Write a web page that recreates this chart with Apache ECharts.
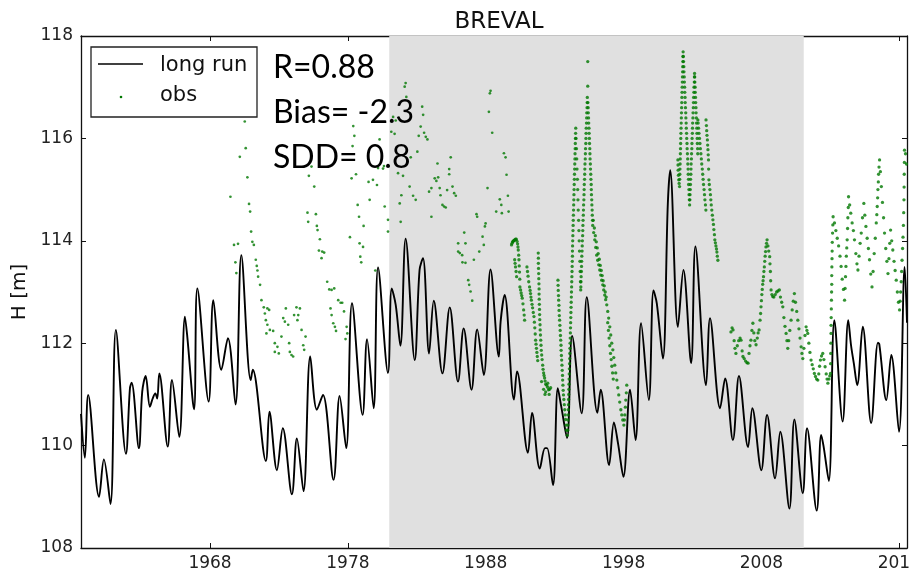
<!DOCTYPE html>
<html>
<head>
<meta charset="utf-8">
<title>BREVAL</title>
<script src="https://cdn.jsdelivr.net/npm/echarts@6/dist/echarts.min.js"></script>
<style>
  html, body { margin: 0; padding: 0; background: #fff; }
  #chart { width: 910px; height: 576px; }
</style>
</head>
<body>
<div id="chart"></div>
<script>
// x ticks (years) and y ticks (H in m)
const yearTicks = [1968, 1978, 1988, 1998, 2008, 2018];
const hMin = 108, hMax = 118, hStep = 2;
const yearMin = 1958.64, yearMax = 2018.56;
// evaluation period shaded in grey
const evalPeriod = [1981.0, 2011.07];

// simulated "long run" water level [year, H]
const longRun = [
  [1958.64,110.62],[1958.92,109.76],[1959.16,110.99],[1959.95,109.0],[1960.30,109.73],[1960.78,108.86],
  [1961.17,112.26],[1961.90,109.84],[1962.19,111.12],[1962.31,111.23],[1962.84,109.95],[1963.08,111.05],
  [1963.33,111.36],[1963.64,110.76],[1963.84,110.92],[1964.03,111.02],[1964.17,110.92],[1964.32,111.41],
  [1964.93,109.98],[1965.24,111.28],[1965.77,110.17],[1966.18,112.52],[1966.35,112.13],[1966.84,110.71],
  [1967.08,113.07],[1967.90,110.86],[1968.24,112.84],[1968.82,111.48],[1969.30,112.10],[1969.85,110.80],
  [1970.27,113.72],[1970.95,111.28],[1971.10,111.48],[1972.05,109.70],[1972.31,110.66],[1972.85,109.52],
  [1973.28,110.34],[1973.94,109.05],[1974.30,110.14],[1974.78,109.11],[1975.27,111.74],[1975.75,110.70],
  [1976.19,110.99],[1976.96,109.33],[1977.40,110.97],[1977.88,109.95],[1978.30,112.78],[1979.07,110.60],
  [1979.39,112.08],[1979.87,110.73],[1980.19,113.48],[1980.91,111.42],[1981.18,113.07],[1981.47,112.75],
  [1981.81,111.95],[1982.19,114.04],[1982.85,111.67],[1983.20,113.43],[1983.45,113.66],[1983.89,111.80],
  [1984.23,112.83],[1984.86,111.41],[1985.39,112.70],[1985.99,111.25],[1986.40,112.29],[1986.97,111.09],
  [1987.38,112.27],[1987.86,111.38],[1988.35,113.44],[1988.95,111.74],[1989.08,112.42],[1989.37,112.94],
  [1990.05,110.90],[1990.27,111.45],[1991.06,109.86],[1991.36,110.64],[1991.92,109.55],[1992.30,109.95],
  [1992.45,109.95],[1992.88,109.23],[1993.23,111.12],[1993.48,110.76],[1993.90,110.15],[1994.27,112.14],
  [1994.96,110.63],[1995.33,112.90],[1996.10,110.64],[1996.34,111.09],[1996.95,109.62],[1997.30,110.45],
  [1997.60,110.04],[1997.99,109.39],[1998.47,111.09],[1998.87,110.11],[1999.27,112.39],[1999.83,110.89],
  [2000.17,113.03],[2000.41,112.78],[2000.85,111.70],[2001.21,114.73],[2001.38,115.38],[2001.94,112.32],
  [2002.34,113.43],[2002.90,111.61],[2003.21,113.89],[2003.98,111.18],[2004.27,112.49],[2005.00,110.73],
  [2005.37,111.31],[2005.93,110.11],[2006.37,111.36],[2007.03,109.97],[2007.34,110.73],[2007.99,109.52],
  [2008.41,110.60],[2008.99,109.36],[2009.37,110.27],[2010.03,108.77],[2010.39,110.51],[2011.00,109.07],
  [2011.31,110.34],[2012.01,108.73],[2012.33,110.21],[2012.50,110.00],[2012.89,109.31],[2013.29,112.45],
  [2013.89,110.47],[2014.30,112.45],[2014.50,111.96],[2014.70,111.61],[2014.95,111.18],[2015.35,112.32],
  [2015.96,110.44],[2016.45,112.01],[2016.55,111.98],[2017.06,110.89],[2017.42,111.77],[2017.98,110.27],
  [2018.39,113.49],[2018.56,112.40]
];

// observations [year, H], sparse readings before 1989
const obsSparse = [
  [1969.48,114.86],[1969.74,113.92],[1969.84,113.58],[1969.91,113.37],[1970.03,113.94],[1970.16,115.64],
  [1970.52,116.33],[1970.59,115.81],[1970.71,115.24],[1970.83,114.72],[1970.91,114.57],[1970.98,114.18],
  [1971.07,113.98],[1971.18,113.92],[1971.32,113.63],[1971.39,113.51],[1971.44,113.42],[1971.49,113.30],
  [1971.63,113.14],[1971.73,112.84],[1971.90,112.70],[1971.98,112.58],[1972.05,112.45],[1972.09,112.19],
  [1972.16,112.68],[1972.16,112.36],[1972.29,112.65],[1972.34,112.26],[1972.58,112.24],[1972.70,112.00],
  [1972.70,111.83],[1972.89,111.93],[1972.99,111.80],[1973.18,112.13],[1973.31,112.49],[1973.43,112.42],
  [1973.50,112.68],[1973.67,112.36],[1973.74,112.00],[1973.79,111.83],[1973.91,111.77],[1974.03,111.74],
  [1974.10,112.55],[1974.27,112.70],[1974.34,112.45],[1974.40,112.55],[1974.52,112.68],[1974.64,112.26],
  [1974.76,111.96],[1974.83,111.87],[1974.93,112.13],
  [1975.07,114.55],[1975.12,114.37],[1975.17,115.27],[1975.36,115.45],[1975.56,115.06],[1975.68,114.52],
  [1975.75,114.29],[1975.80,114.21],[1975.90,113.81],[1975.97,114.03],[1976.09,113.66],[1976.14,113.79],
  [1976.28,113.77],[1976.50,113.20],[1976.65,113.05],[1976.74,112.68],[1976.82,113.04],[1976.82,112.55],
  [1976.94,112.39],[1977.01,113.07],[1977.06,112.32],[1977.14,112.24],[1977.30,112.84],[1977.47,112.79],
  [1977.59,112.79],[1977.72,112.62],[1977.83,112.08],[1977.91,112.32],[1977.96,112.19],
  [1978.15,114.07],[1978.27,115.22],[1978.34,115.85],[1978.39,116.24],[1978.47,116.05],[1978.59,115.30],
  [1978.71,114.70],[1978.81,114.47],[1978.85,113.95],[1978.90,113.69],[1978.97,113.58],[1979.10,113.88],
  [1979.14,114.29],[1979.50,115.15],[1979.58,114.80],[1979.82,115.19],[1979.99,113.42],[1980.11,115.09],
  [1980.19,115.42],[1980.30,115.98],[1980.55,115.41],[1980.62,115.46],[1980.67,114.67],[1980.91,114.41],
  [1980.91,114.18],
  [1981.15,116.13],[1981.28,116.42],[1981.39,116.09],[1981.47,116.35],[1981.64,115.32],[1981.76,114.73],
  [1981.83,114.37],[1981.88,114.89],[1982.00,115.27],[1982.12,117.01],[1982.19,117.08],[1982.24,116.81],
  [1982.48,115.06],[1982.56,115.63],[1982.73,114.88],[1982.92,114.80],[1983.04,115.74],[1983.14,116.05],
  [1983.28,116.23],[1983.39,116.62],[1983.46,116.46],[1983.53,116.11],[1983.65,116.03],[1983.77,115.98],
  [1983.89,114.96],[1984.06,115.03],[1984.06,114.47],[1984.30,115.22],[1984.42,115.17],[1984.50,115.51],
  [1984.55,115.24],[1984.66,115.03],[1984.72,114.89],[1984.86,114.70],[1984.98,114.67],[1985.10,114.65],
  [1985.20,114.99],[1985.35,115.40],[1985.35,115.30],[1985.46,115.63],[1985.59,115.06],[1985.71,114.93],
  [1985.83,114.88],
  [1986.00,113.95],[1986.00,113.79],[1986.12,113.76],[1986.29,113.72],[1986.31,113.58],[1986.44,114.16],
  [1986.53,113.95],[1986.53,113.57],[1986.73,113.23],[1986.80,113.14],[1986.90,113.01],[1987.02,112.83],
  [1987.14,113.63],[1987.33,114.52],[1987.38,114.47],[1987.53,113.79],[1987.77,114.08],[1987.86,113.92],
  [1987.94,114.28],[1987.99,114.34],[1988.13,115.03],[1988.23,116.52],[1988.30,116.88],[1988.35,116.93],
  [1988.47,116.11],[1988.76,114.57],[1989.02,114.81],[1989.13,114.70],[1989.17,114.54],[1989.32,115.71],
  [1989.44,115.63],[1989.51,115.29],[1989.61,114.88],[1989.66,114.57]
];

// observations 1989-1994
const obs1990s = [
  [1989.87,113.92],[1989.91,113.95],[1989.95,113.98],[1989.99,113.99],[1990.02,114.00],[1990.06,114.01],
  [1990.10,114.02],[1990.16,114.03],[1990.22,114.03],[1990.27,113.99],[1990.31,113.94],[1990.34,113.88],
  [1990.36,113.82],[1990.39,113.72],[1990.41,113.63],[1990.43,113.51],[1990.45,113.39],[1990.47,113.25],
  [1990.48,113.10],[1990.53,113.04],[1990.57,112.98],[1990.61,112.93],[1990.65,112.88],[1990.70,112.77],
  [1990.75,112.65],[1990.79,112.55],[1990.82,112.45],
  [1990.10,113.63],[1990.13,113.56],[1990.16,113.49],[1990.20,113.40],[1990.24,113.30],
  [1990.99,113.49],[1991.03,113.40],[1991.07,113.31],[1991.12,113.20],[1991.18,113.10],[1991.22,113.03],
  [1991.25,112.97],[1991.28,112.90],[1991.31,112.84],[1991.36,112.76],[1991.40,112.69],[1991.45,112.60],
  [1991.50,112.52],[1991.53,112.41],[1991.56,112.30],[1991.59,112.18],[1991.62,112.06],[1991.65,111.98],
  [1991.68,111.90],[1991.71,111.82],[1991.74,111.74],[1991.77,111.66],
  [1991.81,113.76],[1991.82,113.66],[1991.82,113.56],[1991.83,113.46],[1991.84,113.36],[1991.85,113.26],
  [1991.86,113.16],[1991.87,113.06],[1991.87,112.96],[1991.88,112.86],[1991.89,112.76],[1991.90,112.66],
  [1991.91,112.56],[1991.92,112.46],[1991.94,112.36],[1991.95,112.26],[1991.97,112.16],[1991.99,112.06],
  [1992.01,111.96],[1992.03,111.86],[1992.06,111.77],[1992.09,111.68],[1992.13,111.57],[1992.16,111.49],
  [1992.20,111.42],[1992.23,111.37],[1992.27,111.32],[1992.31,111.26],[1992.35,111.20],[1992.42,111.18],
  [1992.49,111.14],[1992.56,111.09],[1992.63,111.10],[1992.71,111.13],
  [1992.05,111.25],[1992.20,111.10],[1992.35,111.05],[1992.50,111.22],[1992.30,111.00],[1992.60,111.00],
  [1993.24,113.23],[1993.25,113.13],[1993.26,113.03],[1993.28,112.93],[1993.29,112.84],[1993.31,112.74],
  [1993.32,112.64],[1993.34,112.54],[1993.36,112.45],[1993.38,112.35],[1993.40,112.25],[1993.42,112.15],
  [1993.44,112.06],[1993.46,111.96],[1993.47,111.86],[1993.49,111.76],[1993.51,111.67],[1993.53,111.57],
  [1993.55,111.47],[1993.57,111.37],[1993.58,111.28],[1993.60,111.18],[1993.62,111.08],[1993.64,110.99],
  [1993.67,110.90],[1993.70,110.80],[1993.73,110.70],[1993.76,110.60],[1993.79,110.51],[1993.83,110.40],
  [1993.87,110.30],[1993.92,110.20]
];

// observations 1994-1998
const obsPeak95 = [
  [1993.95,110.30],[1993.96,110.40],[1993.97,110.50],[1993.98,110.60],[1993.99,110.70],[1994.00,110.80],
  [1994.01,110.90],[1994.02,111.00],[1994.03,111.10],[1994.04,111.20],[1994.05,111.30],[1994.06,111.40],
  [1994.07,111.50],[1994.08,111.60],[1994.09,111.70],[1994.10,111.80],[1994.11,111.90],[1994.12,112.00],
  [1994.13,112.10],[1994.14,112.20],[1994.15,112.30],[1994.16,112.40],[1994.17,112.50],[1994.18,112.60],
  [1994.19,112.70],[1994.20,112.80],[1994.21,112.90],[1994.22,113.00],[1994.23,113.10],[1994.24,113.20],
  [1994.25,113.30],[1994.26,113.40],[1994.27,113.50],[1994.28,113.60],[1994.29,113.70],[1994.29,113.80],
  [1994.30,113.90],[1994.31,114.00],[1994.32,114.10],[1994.33,114.20],[1994.34,114.30],[1994.35,114.40],
  [1994.36,114.50],[1994.37,114.60],[1994.38,114.70],[1994.39,114.80],[1994.40,114.90],[1994.41,115.00],
  [1994.42,115.10],[1994.43,115.20],[1994.44,115.30],[1994.45,115.40],[1994.46,115.50],[1994.47,115.60],
  [1994.48,115.70],[1994.49,115.80],[1994.50,115.90],[1994.51,116.00],[1994.52,116.10],[1994.53,116.20],
  [1994.55,116.00],[1994.58,115.80],[1994.60,115.60],[1994.62,115.40],[1994.65,115.20],[1994.67,115.00],
  [1994.69,114.80],[1994.71,114.60],[1994.74,114.40],[1994.76,114.20],[1994.78,114.00],[1994.80,113.80],
  [1994.83,113.60],[1994.85,113.40],[1994.87,113.20],[1994.89,113.04],
  [1994.90,113.10],[1994.91,113.20],[1994.92,113.30],[1994.94,113.40],[1994.95,113.50],[1994.96,113.60],
  [1994.97,113.70],[1994.99,113.80],[1995.00,113.90],[1995.01,114.00],[1995.03,114.10],[1995.04,114.20],
  [1995.05,114.30],[1995.06,114.40],[1995.08,114.50],[1995.09,114.60],[1995.10,114.70],[1995.12,114.80],
  [1995.13,114.90],[1995.14,115.00],[1995.15,115.10],[1995.17,115.20],[1995.18,115.30],[1995.19,115.40],
  [1995.20,115.50],[1995.22,115.60],[1995.23,115.70],[1995.24,115.80],[1995.26,115.90],[1995.27,116.00],
  [1995.28,116.10],[1995.29,116.20],[1995.31,116.30],[1995.32,116.40],[1995.33,116.50],[1995.35,116.60],
  [1995.36,116.70],[1995.37,116.80],[1995.40,117.02],[1995.40,117.50],
  [1995.41,116.70],[1995.43,116.60],[1995.44,116.50],[1995.46,116.40],[1995.47,116.30],[1995.49,116.20],
  [1995.50,116.10],[1995.52,116.00],[1995.53,115.90],[1995.55,115.80],[1995.56,115.70],[1995.57,115.60],
  [1995.59,115.50],[1995.60,115.40],[1995.62,115.30],[1995.63,115.20],[1995.65,115.10],[1995.66,115.00],
  [1995.67,114.90],[1995.69,114.80],[1995.70,114.70],[1995.72,114.60],[1995.73,114.50],[1995.75,114.40],
  [1995.76,114.30],
  [1995.83,114.16],[1995.91,114.02],[1995.98,113.87],[1996.05,113.72],[1996.12,113.62],[1996.20,113.53],
  [1996.27,113.43],[1996.34,113.33],[1996.41,113.23],[1996.49,113.14],[1996.56,113.04],[1996.63,112.94],
  [1996.70,112.85],[1996.78,112.75],[1996.85,112.62],[1996.92,112.49],[1997.00,112.32],[1997.07,112.16],
  [1997.14,112.00],[1997.22,111.87],[1997.29,111.72],[1997.36,111.57],[1997.43,111.42],[1997.51,111.28],
  [1997.58,111.13],[1997.65,110.99],[1997.72,110.85],[1997.80,110.70],[1997.87,110.60],[1997.94,110.50],
  [1998.02,110.40],[1998.06,110.50],[1998.09,110.60],[1998.13,110.75],[1998.16,110.89],[1998.20,111.03],
  [1998.23,111.18],
  [1995.80,114.40],[1995.88,114.25],[1995.95,114.10],[1996.02,113.98],[1996.09,113.86],[1996.16,113.75],
  [1996.24,113.64],[1996.31,113.52],[1996.38,113.42],[1996.45,113.32],[1996.52,113.22],[1996.60,113.12],
  [1996.67,113.00],[1996.74,112.90],
  [1996.85,112.40],[1996.90,112.25],[1996.95,112.10],[1997.00,111.95],[1997.05,111.80],[1997.10,111.68],
  [1997.15,111.55],[1997.20,111.42],[1997.25,111.30]
];

// observations 2001-2005
const obsPeak02 = [
  [2001.94,115.58],[2001.95,115.48],[2001.96,115.38],[2001.98,115.28],[2002.00,115.19],[2002.03,115.12],
  [2002.06,115.06],[2002.07,115.20],[2002.08,115.30],[2002.09,115.40],[2002.10,115.50],[2002.11,115.60],
  [2002.12,115.70],[2002.13,115.80],[2002.14,115.90],[2002.15,116.00],[2002.16,116.10],[2002.17,116.20],
  [2002.18,116.30],[2002.19,116.40],[2002.20,116.50],[2002.21,116.60],[2002.22,116.70],[2002.23,116.80],
  [2002.24,116.90],[2002.25,117.00],[2002.26,117.10],[2002.27,117.20],[2002.28,117.30],[2002.29,117.40],
  [2002.30,117.50],[2002.31,117.60],[2002.32,117.69],
  [2002.33,117.60],[2002.35,117.50],[2002.37,117.40],[2002.38,117.30],[2002.40,117.20],[2002.41,117.10],
  [2002.43,117.00],[2002.44,116.90],[2002.46,116.80],[2002.47,116.70],[2002.49,116.60],[2002.51,116.50],
  [2002.52,116.40],[2002.54,116.30],[2002.55,116.20],[2002.57,116.10],[2002.58,116.00],[2002.60,115.90],
  [2002.61,115.80],[2002.63,115.70],[2002.65,115.60],[2002.66,115.50],[2002.68,115.40],[2002.69,115.30],
  [2002.71,115.20],[2002.72,115.10],[2002.74,115.00],[2002.75,114.90],[2002.77,114.80],[2002.79,114.70],
  [2002.81,114.80],[2002.82,114.90],[2002.84,115.00],[2002.85,115.10],[2002.86,115.20],[2002.88,115.30],
  [2002.89,115.40],[2002.90,115.50],[2002.92,115.60],[2002.93,115.70],[2002.95,115.80],[2002.96,115.90],
  [2002.97,116.00],[2002.99,116.10],[2003.00,116.20],[2003.01,116.30],[2003.03,116.40],[2003.04,116.50],
  [2003.06,116.60],[2003.07,116.70],[2003.08,116.80],[2003.10,116.90],[2003.11,117.00],[2003.13,117.10],
  [2003.14,117.20],[2003.15,117.27],
  [2003.16,117.20],[2003.17,117.10],[2003.19,117.00],[2003.20,116.90],[2003.22,116.80],[2003.23,116.70],
  [2003.25,116.60],[2003.26,116.50],[2003.28,116.40],[2003.29,116.30],[2003.31,116.20],[2003.32,116.10],
  [2003.34,116.00],[2003.35,115.90],[2003.37,115.80],[2003.38,115.70],
  [2003.39,116.36],[2003.41,116.30],[2003.44,116.20],[2003.47,116.10],[2003.51,116.00],[2003.54,115.90],
  [2003.57,115.80],[2003.61,115.70],[2003.64,115.60],[2003.67,115.50],[2003.71,115.40],[2003.74,115.30],
  [2003.77,115.20],[2003.80,115.10],[2003.84,115.00],[2003.87,114.90],[2003.90,114.80],[2003.94,114.70],
  [2003.97,114.60],
  [2003.98,116.36],[2004.01,116.25],[2004.03,116.15],[2004.05,116.06],[2004.08,115.97],[2004.10,115.87],
  [2004.12,115.78],[2004.14,115.68],[2004.16,115.58],[2004.17,115.40],[2004.19,115.19],[2004.22,115.10],
  [2004.26,115.00],[2004.30,114.90],[2004.33,114.80],[2004.36,114.70],[2004.40,114.60],[2004.44,114.50],
  [2004.48,114.41],[2004.52,114.32],[2004.55,114.22],[2004.59,114.12],[2004.62,114.02],[2004.66,113.96],
  [2004.70,113.90],[2004.74,113.84],[2004.77,113.78],[2004.80,113.70],[2004.84,113.62]
];

// observations 2005-2013
const obs2010s = [
  [2005.79,112.22],[2005.87,112.30],[2005.94,112.26],[2006.02,112.05],[2006.08,111.90],[2006.15,111.80],
  [2006.25,111.95],[2006.35,112.05],[2006.45,112.10],[2006.52,112.06],[2006.60,111.85],[2006.66,111.74],
  [2006.75,111.70],[2006.85,111.65],[2006.95,111.62],[2007.03,111.61],[2007.10,111.80],[2007.17,111.95],
  [2007.24,112.06],[2007.31,112.25],[2007.38,112.39],[2007.45,112.20],[2007.52,112.05],[2007.61,111.97],
  [2007.70,112.10],[2007.76,112.20],[2007.83,112.26],[2007.90,112.45],[2007.94,112.58],[2007.97,112.71],
  [2008.00,112.83],[2008.03,112.95],[2008.06,113.05],[2008.09,113.15],[2008.12,113.22],[2008.15,113.30],
  [2008.18,113.40],[2008.21,113.49],[2008.24,113.60],[2008.27,113.70],[2008.30,113.79],[2008.33,113.88],
  [2008.37,113.95],[2008.41,114.02],[2008.47,113.90],[2008.53,113.80],[2008.60,113.69],[2008.62,113.55],
  [2008.65,113.40],[2008.67,113.22],[2008.70,113.04],[2008.76,112.95],[2008.82,112.91],[2008.90,112.90],
  [2009.00,112.95],[2009.10,113.00],[2009.20,113.02],[2009.30,113.04],[2009.38,112.90],[2009.47,112.80],
  [2009.55,112.71],[2009.63,112.50],[2009.71,112.33],[2009.79,112.19],[2009.85,112.05],[2009.91,111.90],
  [2009.98,112.05],[2010.06,112.25],[2010.15,112.45],[2010.23,112.65],[2010.31,112.82],[2010.39,112.97],
  [2010.47,112.80],[2010.56,112.62],[2010.64,112.45],[2010.72,112.28],[2010.80,112.10],[2010.88,111.93],
  [2010.94,111.80],[2011.00,111.70],[2011.08,111.90],[2011.16,112.15],[2011.24,112.32],[2011.30,112.25],
  [2011.36,112.19],[2011.44,112.00],[2011.52,111.82],[2011.60,111.67],[2011.68,111.58],[2011.76,111.50],
  [2011.84,111.41],[2011.92,111.35],[2012.00,111.30],[2012.09,111.28],[2012.16,111.40],[2012.22,111.55],
  [2012.28,111.67],[2012.36,111.75],[2012.45,111.80],[2012.53,111.68],[2012.62,111.54],[2012.70,111.40],
  [2012.76,111.30],[2012.82,111.22],[2012.90,111.30],[2012.96,111.36],[2013.01,111.41]
];

// observations 2013-2018
const obsRecent = [
  [2013.02,111.60],[2013.03,111.80],[2013.04,112.00],[2013.05,112.19],[2013.05,112.35],[2013.06,112.50],
  [2013.07,112.67],[2013.08,112.84],[2013.09,113.00],[2013.10,113.15],[2013.10,113.32],[2013.11,113.49],
  [2013.12,113.65],[2013.13,113.80],[2013.14,113.97],[2013.16,114.15],[2013.18,114.31],[2013.20,114.47],
  [2013.30,114.35],[2013.40,114.20],[2013.50,114.05],[2013.60,113.90],[2013.70,113.70],[2013.78,113.50],
  [2013.86,113.25],[2013.95,113.05],[2014.03,112.84],[2014.07,113.07],[2014.10,113.30],[2014.13,113.50],
  [2014.16,113.70],[2014.19,113.86],[2014.22,114.02],[2014.25,114.24],[2014.27,114.45],[2014.30,114.65],
  [2014.32,114.86],[2014.40,114.70],[2014.48,114.54],[2014.58,114.35],[2014.67,114.20],[2014.75,114.02],
  [2014.85,113.75],[2014.93,113.55],[2015.00,113.43],[2015.08,113.70],[2015.16,113.95],[2015.24,114.15],
  [2015.33,114.45],[2015.43,114.73],[2015.50,114.50],[2015.58,114.28],[2015.67,114.05],[2015.76,113.85],
  [2015.84,113.63],[2015.93,113.35],[2016.02,113.10],[2016.10,113.40],[2016.18,113.75],[2016.26,114.05],
  [2016.33,114.35],[2016.37,114.51],[2016.40,114.67],[2016.43,114.84],[2016.45,115.00],[2016.48,115.15],
  [2016.50,115.30],[2016.53,115.44],[2016.57,115.58],[2016.63,115.35],[2016.70,115.06],[2016.78,114.75],
  [2016.86,114.45],[2016.93,114.15],[2017.02,113.85],[2017.10,113.60],[2017.18,113.36],[2017.25,113.65],
  [2017.31,113.95],[2017.37,114.21],[2017.45,114.00],[2017.53,113.82],[2017.62,113.60],[2017.70,113.42],
  [2017.78,113.23],[2017.86,113.00],[2017.94,112.80],[2018.02,112.65],[2018.06,112.82],[2018.10,113.00],
  [2018.14,113.20],[2018.17,113.40],[2018.20,113.62],[2018.24,113.85],[2018.27,114.07],[2018.30,114.30],
  [2018.32,114.55],[2018.34,114.80],[2018.35,115.05],[2018.36,115.30],[2018.37,115.53],[2018.38,115.77],
  [2018.45,115.70],[2018.52,115.50],[2018.58,115.30]
];

const obsDense = [].concat(obs1990s, obsPeak95, obsPeak02, obs2010s, obsRecent);

const stats = ['R=0.88', 'Bias= -2.3', 'SDD= 0.8'];

const chart = echarts.init(document.getElementById('chart'), null, { renderer: 'canvas' });

const obsColor = '#007800';
const tickFont = { fontFamily: 'DejaVu Sans', fontSize: 17, color: '#222' };
const frameLine = { show: true, lineStyle: { color: '#111', width: 1.3 } };
const inTick = { show: true, inside: true, length: 5, lineStyle: { color: '#111', width: 1 } };

const option = {
  animation: false,
  backgroundColor: '#fff',
  title: {
    text: 'BREVAL',
    left: 494,
    top: 6,
    textAlign: 'center',
    textStyle: { fontFamily: 'DejaVu Sans', fontSize: 23, fontWeight: 'normal', color: '#111' }
  },
  grid: { left: 81, top: 36, width: 826, height: 512, containLabel: false, outerBoundsMode: 'none' },
  xAxis: [
    {
      type: 'value', position: 'bottom', min: yearMin, max: yearMax,
      axisLine: frameLine,
      axisTick: Object.assign({}, inTick, { customValues: yearTicks }),
      axisLabel: Object.assign({ margin: 7, customValues: yearTicks, formatter: v => String(v) }, tickFont),
      splitLine: { show: false }
    },
    {
      type: 'value', position: 'top', min: yearMin, max: yearMax,
      axisLine: frameLine,
      axisTick: Object.assign({}, inTick, { customValues: yearTicks }),
      axisLabel: { show: false },
      splitLine: { show: false }
    }
  ],
  yAxis: [
    {
      type: 'value', position: 'left', min: hMin, max: hMax, interval: hStep,
      name: 'H [m]', nameLocation: 'middle', nameGap: 42,
      nameTextStyle: { fontFamily: 'DejaVu Sans', fontSize: 20, color: '#111' },
      axisLine: frameLine, axisTick: inTick,
      axisLabel: Object.assign({ margin: 8 }, tickFont),
      splitLine: { show: false }
    },
    {
      type: 'value', position: 'right', min: hMin, max: hMax, interval: hStep,
      axisLine: frameLine, axisTick: inTick,
      axisLabel: { show: false },
      splitLine: { show: false }
    }
  ],
  series: [
    {
      name: 'long run',
      type: 'line',
      data: longRun,
      smooth: 0.35,
      showSymbol: false,
      symbol: 'none',
      z: 3,
      lineStyle: { color: '#000', width: 1.9 },
      markArea: {
        silent: true,
        itemStyle: { color: '#e0e0e0' },
        data: [[{ xAxis: evalPeriod[0] }, { xAxis: evalPeriod[1] }]]
      }
    },
    {
      name: 'obs',
      type: 'scatter',
      data: obsSparse,
      symbol: 'circle',
      symbolSize: 2.7,
      z: 4,
      itemStyle: { color: obsColor }
    },
    {
      name: 'obs',
      type: 'scatter',
      data: obsDense,
      symbol: 'circle',
      symbolSize: 3.3,
      z: 4,
      itemStyle: { color: obsColor }
    }
  ],
  graphic: [
    {
      type: 'rect', z: 100,
      shape: { x: 91, y: 47, width: 166, height: 70 },
      style: { fill: '#fff', stroke: '#222', lineWidth: 1.3 }
    },
    {
      type: 'line', z: 101,
      shape: { x1: 98, y1: 64, x2: 143, y2: 64 },
      style: { stroke: '#000', lineWidth: 1.5 }
    },
    {
      type: 'circle', z: 101,
      shape: { cx: 121, cy: 97, r: 1.3 },
      style: { fill: obsColor }
    },
    {
      type: 'text', z: 101,
      style: { text: 'long run', x: 160, y: 66, textVerticalAlign: 'middle', font: '21px "DejaVu Sans"', fill: '#111' }
    },
    {
      type: 'text', z: 101,
      style: { text: 'obs', x: 160, y: 96, textVerticalAlign: 'middle', font: '21px "DejaVu Sans"', fill: '#111' }
    },
    {
      type: 'text', z: 101,
      style: { text: stats[0], x: 273, y: 68, textVerticalAlign: 'middle', font: '32px Lato', fill: '#000' }
    },
    {
      type: 'text', z: 101,
      style: { text: stats[1], x: 273, y: 113, textVerticalAlign: 'middle', font: '32px Lato', fill: '#000' }
    },
    {
      type: 'text', z: 101,
      style: { text: stats[2], x: 273, y: 158, textVerticalAlign: 'middle', font: '32px Lato', fill: '#000' }
    }
  ]
};

chart.setOption(option);
</script>
</body>
</html>
